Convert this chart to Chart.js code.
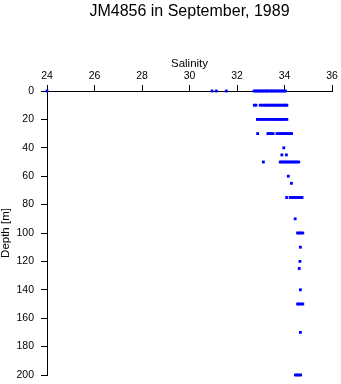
<!DOCTYPE html>
<html>
<head>
<meta charset="utf-8">
<script src="https://cdn.jsdelivr.net/npm/chart.js@4"></script>
<style>
  html, body { margin: 0; padding: 0; background: #fff; }
  #wrap { width: 341px; height: 384px; }
</style>
</head>
<body>
<div id="wrap"><canvas id="chart"></canvas></div>
<script>
// ---------------------------------------------------------------------------
// Data (depth levels and salinity samples per level)
// ---------------------------------------------------------------------------
const depthLevels = [0, 10, 20, 30, 40, 45, 50, 60, 65, 75, 90, 100, 110, 120, 125, 140, 150, 170, 200];

const salinityAtLevel = [
    [24.0, 30.95, 31.13, 31.55, 32.72, 32.78, 32.85, 32.92, 32.97, 33.04, 33.1, 33.17, 33.24, 33.3, 33.37,
     33.44, 33.5, 33.57, 33.64, 33.7, 33.77, 33.84, 33.9, 33.97, 34.04],
    [32.73, 32.8, 32.98, 33.06, 33.15, 33.22, 33.29, 33.36, 33.43, 33.5, 33.57, 33.64, 33.71, 33.78, 33.85,
     33.92, 33.99, 34.05, 34.1],
    [32.86, 32.93, 33.0, 33.08, 33.16, 33.23, 33.32, 33.39, 33.46, 33.53, 33.6, 33.67, 33.74, 33.81, 33.88,
     33.95, 34.02, 34.1],
    [32.87, 33.3, 33.37, 33.44, 33.52, 33.68, 33.75, 33.82, 33.89, 33.96, 34.03, 34.1, 34.17, 34.24, 34.3],
    [33.97],
    [33.89, 34.08],
    [33.11, 33.82, 33.89, 33.96, 34.03, 34.1, 34.17, 34.24, 34.31, 34.38, 34.45, 34.52, 34.6],
    [34.16],
    [34.29],
    [34.09, 34.24, 34.31, 34.38, 34.45, 34.52, 34.59, 34.66, 34.74],
    [34.45],
    [34.55, 34.62, 34.69, 34.77],
    [34.67],
    [34.65],
    [34.62],
    [34.67],
    [34.55, 34.62, 34.69, 34.77],
    [34.67],
    [34.46, 34.53, 34.6, 34.68],
];

const salinityTicks = [24, 26, 28, 30, 32, 34, 36];
const depthTicks = [0, 20, 40, 60, 80, 100, 120, 140, 160, 180, 200];

// ---------------------------------------------------------------------------
// Build points
// ---------------------------------------------------------------------------
const points = [];
depthLevels.forEach((d, i) => {
    salinityAtLevel[i].forEach(s => points.push({ x: s, y: d }));
});

const FONT = "'Liberation Sans', Arial, sans-serif";

new Chart(document.getElementById('chart'), {
    type: 'scatter',
    data: {
        datasets: [{
            label: 'Salinity',
            data: points,
            backgroundColor: '#0000ff',
            borderColor: '#0000ff',
            borderWidth: 0,
            pointStyle: 'rect',
            pointRadius: 2,
            clip: false,
        }]
    },
    options: {
        responsive: true,
        maintainAspectRatio: false,
        animation: false,
        layout: { padding: { left: 0, right: 9, top: 0, bottom: 9 } },
        plugins: {
            legend: { display: false },
            tooltip: { enabled: false },
            title: {
                display: true,
                text: 'JM4856 in September, 1989',
                fullSize: false,
                color: '#000',
                font: { family: FONT, size: 16, weight: 'normal' },
                padding: { top: 2, bottom: 29.8 },
            },
        },
        scales: {
            x: {
                type: 'linear',
                position: 'top',
                min: 24,
                max: 36,
                afterBuildTicks: (axis) => { axis.ticks = salinityTicks.map(v => ({ value: v })); },
                afterFit: (axis) => { axis.height = 40; axis.paddingLeft = 0; axis.paddingRight = 0; },
                ticks: { color: '#000', font: { family: FONT, size: 10.5 }, padding: 3, maxRotation: 0 },
                grid: { drawOnChartArea: false, drawTicks: true, tickLength: 6, color: '#000' },
                border: { color: '#000', width: 1 },
                title: { display: true, text: 'Salinity', color: '#000', font: { family: FONT, size: 11.5 }, padding: { top: 6, bottom: 0 } },
            },
            y: {
                type: 'linear',
                reverse: true,
                min: 0,
                max: 200,
                afterBuildTicks: (axis) => { axis.ticks = depthTicks.map(v => ({ value: v })); },
                afterFit: (axis) => { axis.width = 47; axis.paddingTop = 0; axis.paddingBottom = 0; },
                ticks: { color: '#000', font: { family: FONT, size: 10.5 }, padding: 7 },
                grid: { drawOnChartArea: false, drawTicks: true, tickLength: 6, color: '#000' },
                border: { color: '#000', width: 1 },
                title: { display: true, text: 'Depth [m]', color: '#000', font: { family: FONT, size: 11.5, lineHeight: 1 }, padding: { top: 0, bottom: 0 } },
            },
        },
    },
});
</script>
</body>
</html>
